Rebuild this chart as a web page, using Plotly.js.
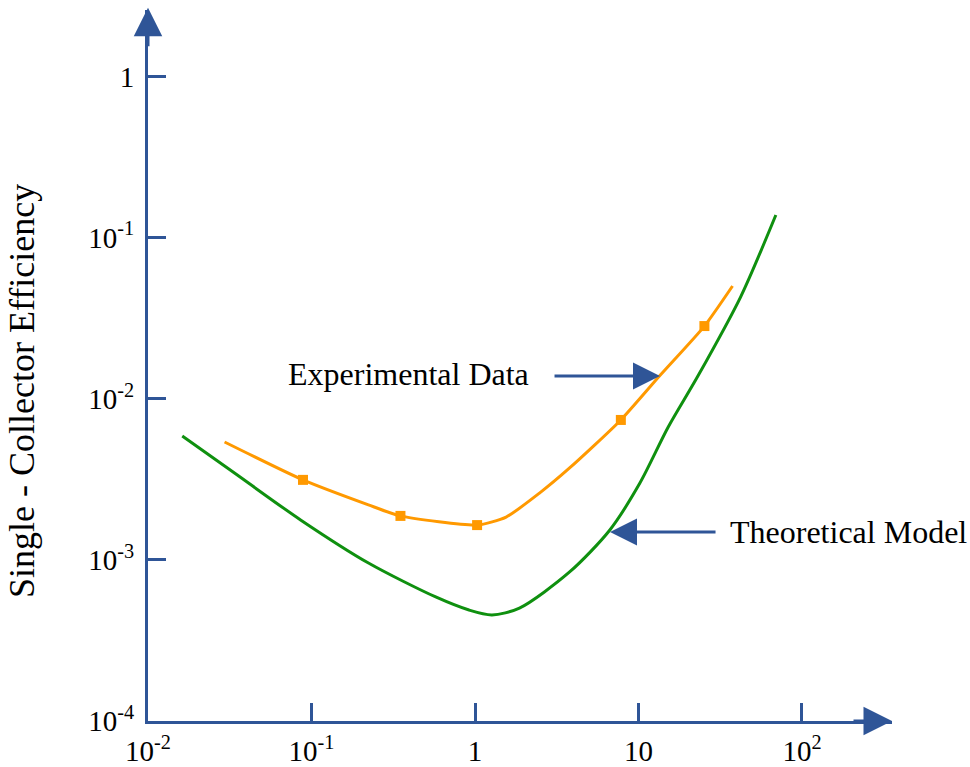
<!DOCTYPE html>
<html>
<head>
<meta charset="utf-8">
<script src="https://cdn.plot.ly/plotly-3.0.1.min.js"></script>
<style>html,body{margin:0;padding:0;background:#fff;}#chart{width:970px;height:767px;}</style>
</head>
<body>
<div id="chart"></div>
<script>
// Axis ticks
const xTickVals = [0.01, 0.1, 1, 10, 100];
const xTickText = ['10<sup>-2</sup>', '10<sup>-1</sup>', '1', '10', '10<sup>2</sup>'];
const yTickVals = [0.0001, 0.001, 0.01, 0.1, 1];
const yTickText = ['10<sup>-4</sup>', '10<sup>-3</sup>', '10<sup>-2</sup>', '10<sup>-1</sup>', '1'];

// Theoretical model curve
const theoryX = [0.0162, 0.0338, 0.0862, 0.223, 0.575, 0.919, 1.27, 1.87, 3.79, 6.68, 10.2, 15.2, 22.9, 42.1, 69.2];
const theoryY = [0.00586, 0.00345, 0.00176, 0.000954, 0.000587, 0.000487, 0.000454, 0.000501, 0.000839, 0.00153, 0.00299, 0.00666, 0.0136, 0.0427, 0.138];

// Experimental data curve
const expX = [0.0294, 0.0887, 0.223, 0.350, 1.03, 1.55, 2.48, 3.79, 7.80, 13.6, 25.3, 37.6];
const expY = [0.00538, 0.00313, 0.00219, 0.00187, 0.00164, 0.00184, 0.00259, 0.00371, 0.00737, 0.0140, 0.0282, 0.0500];

// Experimental measured points
const markerX = [0.0887, 0.350, 1.03, 7.80, 25.3];
const markerY = [0.00313, 0.00187, 0.00164, 0.00737, 0.0282];

const labelTexts = ['Experimental Data', 'Theoretical Model'];
const yTitle = 'Single - Collector Efficiency';

const BLUE = '#2f5597';
const ORANGE = '#ff9900';
const GREEN = '#0f900f';
const FONT = 'Liberation Serif, Times New Roman, serif';

const traces = [
  {x: theoryX, y: theoryY, type: 'scatter', mode: 'lines', name: 'Theoretical Model',
   line: {color: GREEN, width: 3, shape: 'spline', smoothing: 0.8}},
  {x: expX, y: expY, type: 'scatter', mode: 'lines', name: 'Experimental Data',
   line: {color: ORANGE, width: 3, shape: 'spline', smoothing: 0.6}},
  {x: markerX, y: markerY, type: 'scatter', mode: 'markers', name: 'Experimental points',
   marker: {color: ORANGE, symbol: 'square', size: 10}}
];

const layout = {
  width: 970, height: 767,
  margin: {l: 148, r: 78, t: 10, b: 46, pad: 0},
  paper_bgcolor: '#fff', plot_bgcolor: '#fff',
  showlegend: false,
  font: {family: FONT, color: '#000', size: 29},
  xaxis: {
    type: 'log', range: [-2, 2.5505], autorange: false,
    tickmode: 'array', tickvals: xTickVals, ticktext: xTickText,
    ticks: 'inside', ticklen: 18, tickwidth: 3, tickcolor: BLUE,
    showline: true, linecolor: BLUE, linewidth: 3, mirror: false,
    showgrid: false, zeroline: false, ticklabelstandoff: 2,
    tickfont: {family: FONT, size: 29, color: '#000'}
  },
  yaxis: {
    type: 'log', range: [-4.0012, 0.4121], autorange: false,
    tickmode: 'array', tickvals: yTickVals, ticktext: yTickText,
    ticks: 'inside', ticklen: 18, tickwidth: 3, tickcolor: BLUE,
    showline: true, linecolor: BLUE, linewidth: 3, mirror: false,
    showgrid: false, zeroline: false, ticklabelstandoff: 5,
    tickfont: {family: FONT, size: 29, color: '#000'}
  },
  annotations: [
    {text: yTitle, xref: 'paper', yref: 'paper', x: -0.1694, y: 0.4641, textangle: -90,
     xanchor: 'center', yanchor: 'middle', showarrow: false, font: {family: FONT, size: 36, color: '#000'}},
    {text: labelTexts[0], xref: 'paper', yref: 'paper', x: 0.5148, y: 0.4875,
     xanchor: 'right', yanchor: 'middle', showarrow: false, font: {family: FONT, size: 32, color: '#000'}},
    {text: labelTexts[1], xref: 'paper', yref: 'paper', x: 0.7796, y: 0.2665,
     xanchor: 'left', yanchor: 'middle', showarrow: false, font: {family: FONT, size: 32, color: '#000'}},
    // pointer arrows
    {text: '', xref: 'paper', yref: 'paper', x: 0.6882, y: 0.4852, ax: -107, ay: 0,
     showarrow: true, arrowhead: 2, arrowsize: 1.8, arrowwidth: 3, arrowcolor: BLUE},
    {text: '', xref: 'paper', yref: 'paper', x: 0.621, y: 0.2658, ax: 107, ay: 0,
     showarrow: true, arrowhead: 2, arrowsize: 1.8, arrowwidth: 3, arrowcolor: BLUE},
    // axis arrowheads
    {text: '', xref: 'paper', yref: 'paper', x: 0, y: 1.003, ax: 0, ay: 40,
     showarrow: true, arrowhead: 2, arrowsize: 1.9, arrowwidth: 3, arrowcolor: BLUE},
    {text: '', xref: 'paper', yref: 'paper', x: 1, y: 0, ax: -40, ay: 0,
     showarrow: true, arrowhead: 2, arrowsize: 1.9, arrowwidth: 3, arrowcolor: BLUE}
  ]
};

Plotly.newPlot('chart', traces, layout, {staticPlot: true, displayModeBar: false});
</script>
</body>
</html>
